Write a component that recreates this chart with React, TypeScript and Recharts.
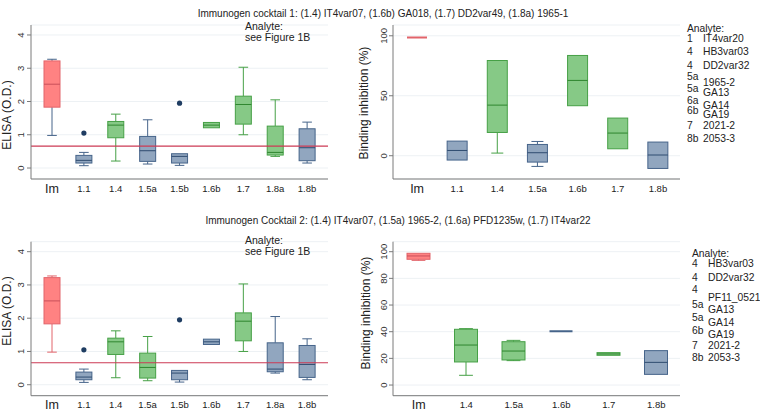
import React from 'react';
import { ComposedChart, Bar, XAxis, YAxis, CartesianGrid, ReferenceLine } from 'recharts';

const FONT = '"Liberation Sans", Arial, sans-serif';

// ELISA readings (same measurements shown for both cocktails)
const elisaCats = ['Im', '1.1', '1.4', '1.5a', '1.5b', '1.6b', '1.7', '1.8a', '1.8b'];
const elisaLow = [0.98, 0.07, 0.21, 0.12, 0.08, 1.21, 1.0, 0.35, 0.15];
const elisaQ1 = [1.83, 0.15, 0.91, 0.2, 0.15, 1.21, 1.32, 0.39, 0.22];
const elisaMed = [2.52, 0.23, 1.29, 0.52, 0.35, 1.29, 1.91, 0.47, 0.61];
const elisaQ3 = [3.22, 0.38, 1.4, 0.95, 0.43, 1.37, 2.16, 1.26, 1.18];
const elisaHigh = [3.27, 0.47, 1.62, 1.45, 0.43, 1.37, 3.03, 2.05, 1.38];
const elisaOut = [null, 1.05, null, null, 1.95, null, null, null, null];
const elisaCutoff = 0.66;
const elisaTicks = [0, 1, 2, 3, 4];
const elisaGroups1 = ['red', 'blue', 'green', 'blue', 'blue', 'green', 'green', 'green', 'blue'];
const elisaWhisk1 = ['blue', 'blue', 'green', 'blue', 'blue', 'green', 'green', 'green', 'blue'];
const elisaGroups2 = ['red', 'blue', 'green', 'green', 'blue', 'blue', 'green', 'blue', 'blue'];

// binding inhibition, cocktail 1
const inh1Cats = ['Im', '1.1', '1.4', '1.5a', '1.6b', '1.7', '1.8b'];
const inh1Low = [98.6, -3.6, 2.2, -8.9, 41.7, 5.8, -10.6];
const inh1Q1 = [98.6, -3.6, 19.4, -5.3, 41.7, 5.8, -10.6];
const inh1Med = [98.6, 4.4, 42.2, 2.5, 62.8, 18.9, 0.6];
const inh1Q3 = [98.6, 12.2, 79.4, 9.4, 83.6, 31.4, 11.4];
const inh1High = [98.6, 12.2, 79.4, 11.9, 83.6, 31.4, 11.4];
const inh1Groups = ['red', 'blue', 'green', 'blue', 'green', 'green', 'blue'];
const inh1Ticks = [0, 50, 100];

// binding inhibition, cocktail 2
const inh2Cats = ['Im', '1.4', '1.5a', '1.6b', '1.7', '1.8b'];
const inh2Low = [93.5, 7.3, 18.3, 40.3, 22.3, 8.0];
const inh2Q1 = [94.3, 17.3, 18.8, 40.3, 22.3, 8.0];
const inh2Med = [96.8, 30.0, 25.5, 40.3, 23.3, 17.0];
const inh2Q3 = [98.8, 41.8, 32.5, 40.3, 24.3, 25.8];
const inh2High = [98.8, 42.3, 33.5, 40.3, 24.3, 25.8];
const inh2Groups = ['red', 'green', 'green', 'blue', 'green', 'blue'];
const inh2Ticks = [0, 20, 40, 60, 80, 100];

const legend1 = [
  ['1', 'IT4var20'], ['4', 'HB3var03'], ['4', 'DD2var32'], ['5a', '1965-2'], ['5a', 'GA13'],
  ['6a', 'GA14'], ['6b', 'GA19'], ['7', '2021-2'], ['8b', '2053-3'],
];
const legend2 = [
  ['4', 'HB3var03'], ['4', 'DD2var32'], ['4', 'PF11_0521'], ['5a', 'GA13'], ['5a', 'GA14'],
  ['6b', 'GA19'], ['7', '2021-2'], ['8b', '2053-3'],
];

const PALETTE: Record<string, { fill: string; stroke: string; med: string }> = {
  red: { fill: '#ff8282', stroke: '#e2646a', med: '#c9505a' },
  blue: { fill: '#91a6bf', stroke: '#46648a', med: '#2f4c70' },
  green: { fill: '#86c986', stroke: '#46a046', med: '#2f862f' },
};

const makeRows = (cats: string[], low: number[], q1: number[], med: number[], q3: number[], high: number[],
  groups: string[], whisk: string[], out?: (number | null)[]) =>
  cats.map((c, i) => {
    const o = out ? out[i] : null;
    return {
      cat: c, low: low[i], q1: q1[i], med: med[i], q3: q3[i], high: high[i], out: o,
      group: groups[i], whisker: whisk[i],
      range: [Math.min(low[i], o ?? Infinity), Math.max(high[i], o ?? -Infinity)],
    };
  });

const BoxShape = (props: any) => {
  const { x, y, width, height, payload } = props;
  const [lo, hi] = payload.range;
  const top = Math.min(y, y + height);
  const span = Math.abs(height);
  const py = (v: number) => (hi === lo ? top : top + ((hi - v) / (hi - lo)) * span);
  const c = PALETTE[payload.group];
  const w = PALETTE[payload.whisker];
  const cx = x + width / 2;
  const cap = width * 0.3;
  const flat = payload.q3 === payload.q1;
  return (
    <g>
      {payload.high > payload.q3 && (
        <g stroke={w.stroke} strokeWidth={1}>
          <line x1={cx} x2={cx} y1={py(payload.q3)} y2={py(payload.high)} />
          <line x1={cx - cap} x2={cx + cap} y1={py(payload.high)} y2={py(payload.high)} />
        </g>
      )}
      {payload.low < payload.q1 && (
        <g stroke={w.stroke} strokeWidth={1}>
          <line x1={cx} x2={cx} y1={py(payload.q1)} y2={py(payload.low)} />
          <line x1={cx - cap} x2={cx + cap} y1={py(payload.low)} y2={py(payload.low)} />
        </g>
      )}
      {flat ? (
        <line x1={x} x2={x + width} y1={py(payload.med)} y2={py(payload.med)} stroke={c.stroke} strokeWidth={2} />
      ) : (
        <>
          <rect x={x} y={py(payload.q3)} width={width} height={py(payload.q1) - py(payload.q3)}
            fill={c.fill} stroke={c.stroke} strokeWidth={1} />
          <line x1={x} x2={x + width} y1={py(payload.med)} y2={py(payload.med)} stroke={c.med} strokeWidth={1} />
        </>
      )}
      {payload.out != null && <circle cx={cx} cy={py(payload.out)} r={2.6} fill="#1f3d62" />}
    </g>
  );
};

const YTick = (props: any) => {
  const { y, payload, axisX, off } = props;
  const tx = axisX - off;
  return (
    <text x={tx} y={y} transform={`rotate(-90, ${tx}, ${y})`} textAnchor="middle"
      fontSize={9.5} fill="#333" fontFamily={FONT}>
      {payload.value}
    </text>
  );
};

const XTick = (props: any) => {
  const { x, payload, base } = props;
  const im = payload.value === 'Im';
  return (
    <text x={x} y={base + (im ? 13.6 : 12.7)} textAnchor="middle" fontSize={im ? 12.5 : 9.5}
      fill="#222" fontFamily={FONT}>
      {payload.value}
    </text>
  );
};

type PanelProps = {
  rows: any[]; left: number; top: number; width: number; height: number;
  plotTop: number; plotBottom: number; axisX: number; plotRight: number;
  domain: [number, number]; ticks: number[]; pad: { left: number; right: number };
  barSize: number; cutoff?: number; tickOff: number;
};

const Panel = (p: PanelProps) => (
  <div style={{ position: 'absolute', left: p.left, top: p.top, width: p.width, height: p.height }}>
    <ComposedChart width={p.width} height={p.height} data={p.rows}
      margin={{ top: p.plotTop, left: 0, right: p.width - p.plotRight, bottom: 0 }}>
      <CartesianGrid horizontal vertical={false} stroke="#edf1f4" />
      <XAxis dataKey="cat" type="category" height={p.height - p.plotBottom} padding={p.pad}
        stroke="#7a7a7a" tickLine={false} interval={0}
        tick={<XTick base={p.plotBottom} />} />
      <YAxis type="number" domain={p.domain} ticks={p.ticks} width={p.axisX} stroke="#7a7a7a"
        tickSize={4} allowDataOverflow
        tick={<YTick axisX={p.axisX} off={p.tickOff} />} />
      {p.cutoff != null && <ReferenceLine y={p.cutoff} stroke="#cc3a55" strokeWidth={1.2} />}
      <Bar dataKey="range" barSize={p.barSize} shape={<BoxShape />} isAnimationActive={false} />
    </ComposedChart>
  </div>
);

const elisaRows1 = makeRows(elisaCats, elisaLow, elisaQ1, elisaMed, elisaQ3, elisaHigh, elisaGroups1, elisaWhisk1, elisaOut);
const elisaRows2 = makeRows(elisaCats, elisaLow, elisaQ1, elisaMed, elisaQ3, elisaHigh, elisaGroups2, elisaGroups2, elisaOut);
const inhRows1 = makeRows(inh1Cats, inh1Low, inh1Q1, inh1Med, inh1Q3, inh1High, inh1Groups, inh1Groups);
const inhRows2 = makeRows(inh2Cats, inh2Low, inh2Q1, inh2Med, inh2Q3, inh2High, inh2Groups, inh2Groups);

const Legend = ({ x, y, rows, offsets }: { x: number; y: number; rows: string[][]; offsets: number[][] }) => (
  <g fontFamily={FONT} fontSize={10.3} fill="#222">
    <text x={x} y={y}>Analyte:</text>
    {rows.map((r, i) => (
      <g key={i}>
        <text x={x} y={offsets[i][0]}>{r[0]}</text>
        <text x={x + 16} y={offsets[i][1]}>{r[1]}</text>
      </g>
    ))}
  </g>
);

export default function App() {
  return (
    <div style={{ position: 'absolute', left: 0, top: 0, width: 760, height: 411, background: '#fff', overflow: 'hidden' }}>
      <Panel rows={elisaRows1} left={0} top={0} width={340} height={200} plotTop={25} plotBottom={179}
        axisX={31} plotRight={328} domain={[-0.33, 4.3]} ticks={elisaTicks} pad={{ left: 5, right: 5 }}
        barSize={16} cutoff={elisaCutoff} tickOff={7} />
      <Panel rows={inhRows1} left={340} top={0} width={420} height={200} plotTop={25} plotBottom={179}
        axisX={53} plotRight={340} domain={[-19.4, 109]} ticks={inh1Ticks} pad={{ left: 4, right: 2 }}
        barSize={20} tickOff={6} />
      <Panel rows={elisaRows2} left={0} top={217} width={340} height={194} plotTop={24.7} plotBottom={178.7}
        axisX={31} plotRight={328} domain={[-0.33, 4.3]} ticks={elisaTicks} pad={{ left: 5, right: 5 }}
        barSize={16} cutoff={elisaCutoff} tickOff={7} />
      <Panel rows={inhRows2} left={340} top={217} width={420} height={194} plotTop={24.7} plotBottom={178.7}
        axisX={53} plotRight={340} domain={[-8, 107.5]} ticks={inh2Ticks} pad={{ left: 2, right: 0 }}
        barSize={23} tickOff={6} />
      <svg width={760} height={411} style={{ position: 'absolute', left: 0, top: 0, pointerEvents: 'none' }}>
        <g fontFamily={FONT} fill="#222">
          <text x={383} y={17} fontSize={10} textAnchor="middle">
            Immunogen cocktail 1:  (1.4) IT4var07, (1.6b) GA018, (1.7) DD2var49, (1.8a) 1965-1
          </text>
          <text x={398} y={224} fontSize={10} textAnchor="middle">
            Immunogen Cocktail 2: (1.4) IT4var07, (1.5a) 1965-2, (1.6a) PFD1235w, (1.7) IT4var22
          </text>
          <text x={10.5} y={115} fontSize={12} textAnchor="middle" transform="rotate(-90, 10.5, 115)">ELISA (O.D.)</text>
          <text x={10.5} y={311} fontSize={12} textAnchor="middle" transform="rotate(-90, 10.5, 311)">ELISA (O.D.)</text>
          <text x={368} y={103} fontSize={12} textAnchor="middle" transform="rotate(-90, 368, 103)">Binding inhibition (%)</text>
          <text x={370} y={313} fontSize={12} textAnchor="middle" transform="rotate(-90, 370, 313)">Binding inhibition (%)</text>
          <text x={245} y={29.5} fontSize={10.5}>Analyte:</text>
          <text x={245} y={41} fontSize={10.5}>see Figure 1B</text>
          <text x={245} y={243.5} fontSize={10.5}>Analyte:</text>
          <text x={245} y={255} fontSize={10.5}>see Figure 1B</text>
        </g>
        <Legend x={687} y={31.5} rows={legend1}
          offsets={[[41.5, 41.5], [55.3, 55.3], [69, 69], [80, 86], [92, 96], [103.5, 108.5], [113.5, 118], [129, 129], [142, 142]]} />
        <Legend x={692} y={256.5} rows={legend2}
          offsets={[[266.5, 266.5], [280.7, 280.7], [292.5, 301], [307.5, 313], [320.5, 326], [333.5, 338], [349, 349], [361, 361]]} />
      </svg>
    </div>
  );
}
